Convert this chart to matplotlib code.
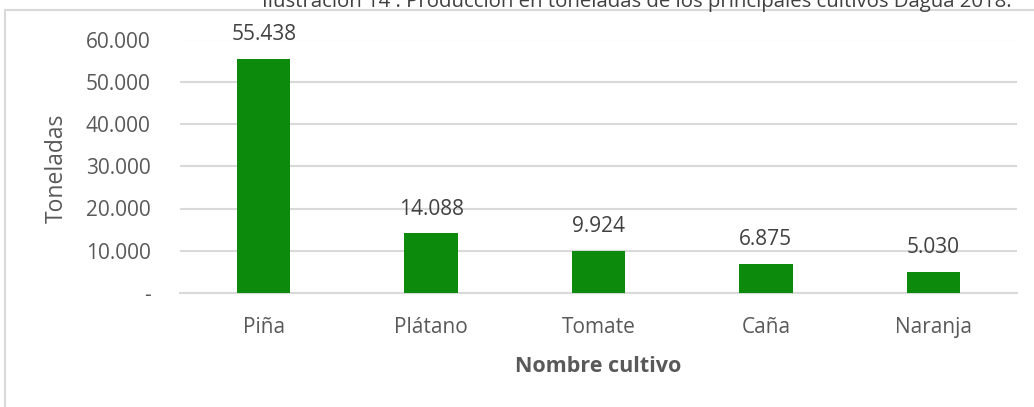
import matplotlib
matplotlib.use("Agg")
import matplotlib.pyplot as plt
from matplotlib.ticker import FuncFormatter
from matplotlib.patches import Rectangle

categories = ["Piña", "Plátano", "Tomate", "Caña", "Naranja"]
values = [55438, 14088, 9924, 6875, 5030]
yticks = [0, 10000, 20000, 30000, 40000, 50000, 60000]
title = "Ilustración 14 : Producción en toneladas de los principales cultivos Dagua 2018."

W, H = 1034, 407
fig = plt.figure(figsize=(W / 100, H / 100), dpi=100)
plt.rcParams['font.family'] = ['Open Sans', 'DejaVu Sans']

text_col = "#595959"
green = "#0B8A0B"
grid_col = "#D9D9D9"

# outer chart frame
fig.patches.append(Rectangle((5 / W, -0.05), 1.2, 1 - 10 / H + 0.05, transform=fig.transFigure,
                             fill=False, edgecolor=grid_col, linewidth=1.5))

ax = fig.add_axes([180 / W, (H - 293) / H, 837 / W, (293 - 39.5) / H])
x = list(range(len(categories)))
ax.bar(x, values, width=0.32, color=green, zorder=3)
ax.set_xlim(-0.5, len(categories) - 0.5)
ax.set_ylim(0, 60000)
ax.set_yticks(yticks)

def fmt(v, pos=None):
    if v == 0:
        return "-"
    return f"{int(v):,}".replace(",", ".")

ax.yaxis.set_major_formatter(FuncFormatter(fmt))
ax.grid(axis='y', color=grid_col, linewidth=1.5, zorder=0)
for s in ["top", "right", "left"]:
    ax.spines[s].set_visible(False)
ax.spines["bottom"].set_color(grid_col)
ax.spines["bottom"].set_linewidth(1.5)
ax.tick_params(axis='y', length=0, pad=21, labelsize=15, labelcolor=text_col)
ax.tick_params(axis='x', length=0, pad=17, labelsize=15, labelcolor=text_col)
ax.set_xticks(x)
ax.set_xticklabels(categories)

for xi, v in zip(x, values):
    ax.annotate(fmt(v), (xi, v), xytext=(0, 10), textcoords="offset points",
                ha="center", va="bottom", fontsize=15, color="#404040", clip_on=False)

fig.text(57 / W, 1 - 168 / H, "Toneladas", rotation=90, ha="center", va="center",
         fontsize=16.5, color=text_col)
fig.text(598 / W, 1 - 366 / H, "Nombre cultivo", ha="center", va="center",
         fontsize=15.5, fontweight="bold", color=text_col)

fig.text(262 / W, 1 - 7 / H, title, ha="left", va="baseline", fontsize=14.7, color="#404040")

fig.savefig("out.png", dpi=100)
